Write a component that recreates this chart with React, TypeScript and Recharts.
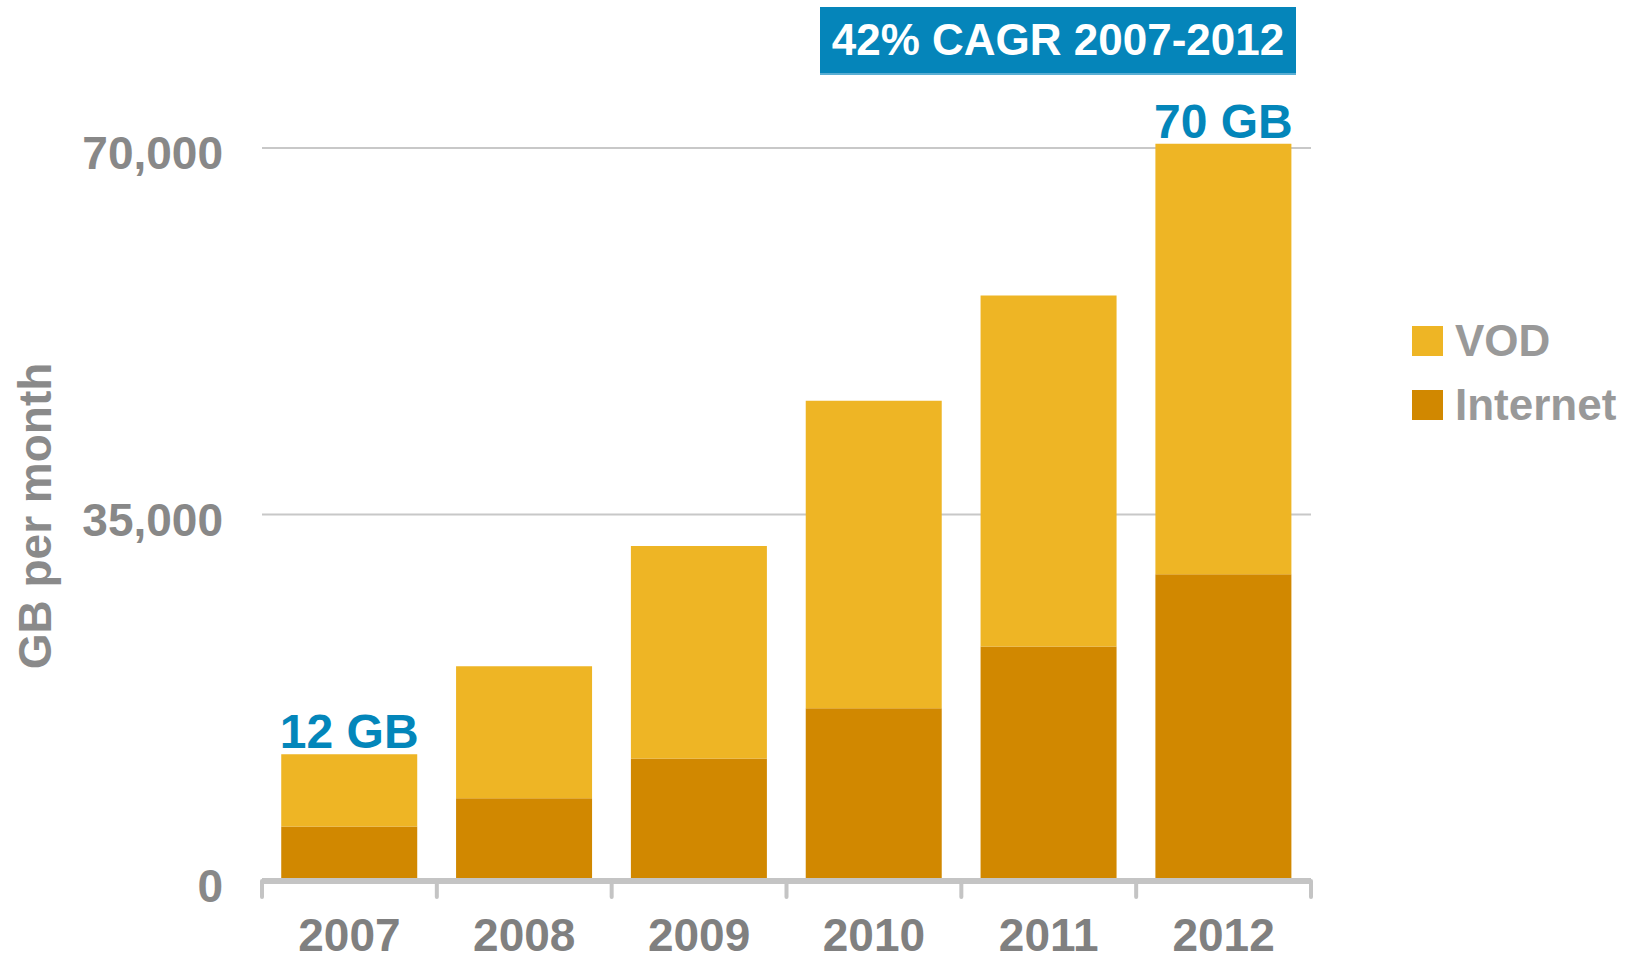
import React from 'react';
import {
  BarChart,
  Bar,
  XAxis,
  YAxis,
  CartesianGrid,
  LabelList,
  Legend,
} from 'recharts';

const years = ['2007', '2008', '2009', '2010', '2011', '2012'];
const internetGb = [5200, 7900, 11700, 16500, 22400, 29300];
const vodGb = [6900, 12600, 20300, 29350, 33500, 41100];
const totalLabels = ['12 GB', '', '', '', '', '70 GB'];
const yTicks = [0, 35000, 70000];

const data = years.map((year, i) => ({
  year,
  internet: internetGb[i],
  vod: vodGb[i],
  label: totalLabels[i],
}));

const FONT = '"Liberation Sans", Arial, Helvetica, sans-serif';
const VOD_COLOR = '#EEB525';
const INTERNET_COLOR = '#D18800';
const BLUE = '#0386BA';
const AXIS_GREY = '#c4c4c4';

const YearTick = (props: any) => {
  const { x, y, payload, index, visibleTicksCount } = props;
  const half = payload?.offset ?? 87.4;
  const isLast = index === visibleTicksCount - 1;
  return (
    <g>
      <line x1={x - half} x2={x - half} y1={y} y2={y + 16} stroke={AXIS_GREY} strokeWidth={4} strokeLinecap="round" />
      {isLast && (
        <line x1={x + half} x2={x + half} y1={y} y2={y + 16} stroke={AXIS_GREY} strokeWidth={4} strokeLinecap="round" />
      )}
      <text
        x={x}
        y={y + 70}
        textAnchor="middle"
        fill="#808080"
        fontSize={46}
        fontWeight="bold"
        fontFamily={FONT}
      >
        {payload.value}
      </text>
    </g>
  );
};

const AxisTitle = (props: any) => {
  const { viewBox } = props;
  const cx = 51;
  const cy = viewBox.y + viewBox.height / 2 + 12;
  return (
    <text
      x={cx}
      y={cy}
      transform={`rotate(-90, ${cx}, ${cy})`}
      textAnchor="middle"
      fill="#8a8a8a"
      fontSize={46}
      fontWeight="bold"
      fontFamily={FONT}
    >
      GB per month
    </text>
  );
};

const legendItems = [
  { name: 'VOD', color: VOD_COLOR },
  { name: 'Internet', color: INTERNET_COLOR },
];

const LegendBox = () => (
  <div style={{ fontFamily: FONT }}>
    {legendItems.map((item) => (
      <div key={item.name} style={{ display: 'flex', alignItems: 'center', height: 64 }}>
        <span style={{ width: 31, height: 30, background: item.color, display: 'inline-block', marginRight: 12 }} />
        <span style={{ fontSize: 44, fontWeight: 'bold', color: '#999999', lineHeight: '44px' }}>{item.name}</span>
      </div>
    ))}
  </div>
);

export default function App() {
  return (
    <div style={{ position: 'absolute', left: 0, top: 0, width: 1642, height: 960, background: '#fff' }}>
      <BarChart
        width={1642}
        height={960}
        data={data}
        margin={{ top: 127, right: 331, bottom: 0, left: 0 }}
        barCategoryGap="11%"
      >
        <CartesianGrid
          horizontal
          vertical={false}
          horizontalValues={yTicks}
          stroke="#c8c8c8"
          strokeWidth={2}
        />
        <XAxis
          dataKey="year"
          height={79}
          axisLine={{ stroke: AXIS_GREY, strokeWidth: 6 }}
          tickLine={false}
          tickSize={0}
          tickMargin={0}
          tick={<YearTick />}
          interval={0}
        />
        <YAxis
          width={262}
          domain={[0, 72000]}
          ticks={yTicks}
          axisLine={false}
          tickLine={false}
          tickSize={0}
          tickMargin={39}
          tickFormatter={(v: number) => v.toLocaleString('en-US')}
          tick={{ fill: '#888888', fontSize: 46, fontWeight: 'bold', fontFamily: FONT, dy: 5 }}
          label={<AxisTitle />}
        />
        <Legend
          layout="vertical"
          align="center"
          verticalAlign="middle"
          content={<LegendBox />}
          wrapperStyle={{ left: 1412, top: 309, width: 230 }}
        />
        <Bar dataKey="internet" stackId="a" fill={INTERNET_COLOR} isAnimationActive={false} />
        <Bar dataKey="vod" stackId="a" fill={VOD_COLOR} isAnimationActive={false}>
          <LabelList
            dataKey="label"
            position="top"
            offset={6}
            fill={BLUE}
            fontSize={48}
            fontWeight="bold"
            fontFamily={FONT}
          />
        </Bar>
      </BarChart>
      <div
        style={{
          position: 'absolute',
          left: 820,
          top: 7,
          width: 476,
          height: 68,
          background: '#0585BA',
          color: '#fff',
          fontFamily: FONT,
          fontWeight: 'bold',
          fontSize: 44,
          display: 'flex',
          alignItems: 'center',
          justifyContent: 'center',
          borderBottom: '2px solid #5aaed3',
          boxSizing: 'border-box',
        }}
      >
        42% CAGR 2007-2012
      </div>
    </div>
  );
}
